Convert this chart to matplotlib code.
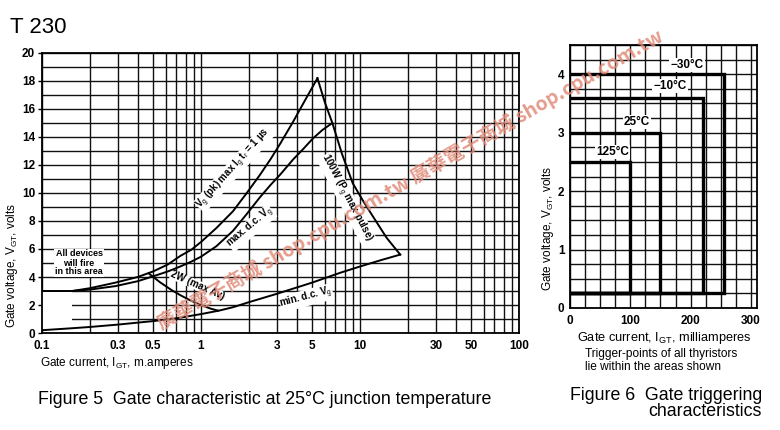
import matplotlib
matplotlib.use('Agg')
import matplotlib.pyplot as plt
from matplotlib.patches import Rectangle

plt.rcParams['font.family'] = ['Liberation Sans', 'DejaVu Sans']
plt.rcParams['mathtext.fontset'] = 'custom'
plt.rcParams['mathtext.rm'] = 'Liberation Sans'
plt.rcParams['mathtext.it'] = 'Liberation Sans:italic'
plt.rcParams['mathtext.bf'] = 'Liberation Sans:bold'
plt.rcParams['mathtext.default'] = 'regular'

# ---------------- Figure 5 data (gate current mA, gate voltage V) -------------
vpk_i = [0.1, 0.155, 0.2, 0.29, 0.4, 0.5, 0.62, 0.74, 0.87, 1.0, 1.25, 1.59,
         1.94, 2.35, 2.75, 3.14, 3.8, 4.5, 5.4]
vpk_v = [3.0, 3.0, 3.2, 3.6, 4.0, 4.4, 4.9, 5.5, 5.95, 6.5, 7.5, 8.7,
         10.0, 11.3, 12.45, 13.5, 15.1, 16.6, 18.2]

maxdc_i = [0.155, 0.2, 0.29, 0.4, 0.5, 0.62, 0.74, 0.87, 1.0, 1.25, 1.59,
           1.94, 2.35, 2.75, 3.14, 3.8, 4.4, 5.06, 5.8, 6.7]
maxdc_v = [3.0, 3.1, 3.35, 3.7, 4.05, 4.4, 4.75, 5.1, 5.45, 6.2, 7.3,
           8.5, 9.7, 10.6, 11.3, 12.4, 13.15, 13.9, 14.5, 15.0]

p100_i = [5.4, 6.0, 6.7, 7.7, 9.0, 10.5, 12.1, 14.7, 17.9]
p100_v = [18.2, 16.5, 15.0, 12.8, 10.7, 9.4, 8.3, 6.8, 5.6]

p2_i = [0.47, 0.55, 0.65, 0.75, 0.85, 1.0, 1.15, 1.28]
p2_v = [4.25, 3.64, 3.08, 2.67, 2.35, 2.0, 1.74, 1.6]

mindc_i = [0.1, 0.15, 0.2, 0.3, 0.5, 0.7, 1.0, 1.3, 1.6, 2.0, 3.0, 5.0,
           7.5, 10.0, 13.5, 17.9]
mindc_v = [0.2, 0.33, 0.43, 0.6, 0.85, 1.05, 1.35, 1.6, 1.85, 2.2, 2.8, 3.6,
           4.3, 4.75, 5.2, 5.6]

x_ticks5 = [0.1, 0.3, 0.5, 1, 3, 5, 10, 30, 50, 100]
x_labels5 = ['0.1', '0.3', '0.5', '1', '3', '5', '10', '30', '50', '100']
y_ticks5 = [0, 2, 4, 6, 8, 10, 12, 14, 16, 18, 20]

# ---------------- Figure 6 data -------------
temps = ['\u221230\u00b0C', '\u221210\u00b0C', '25\u00b0C', '125\u00b0C']
box_i = [255, 220, 150, 100]      # mA
box_v = [4.0, 3.6, 3.0, 2.5]      # V
v_floor = 0.25
x_ticks6 = [0, 100, 200, 300]
y_ticks6 = [0, 1, 2, 3, 4]

W, H = 780, 430
fig = plt.figure(figsize=(7.8, 4.3), dpi=100)

def fx(px):
    return px / W

def fy(py):
    return 1 - py / H

# ================= Figure 5 =================
ax = fig.add_axes([fx(42), fy(333), (519 - 42) / W, (333 - 53) / H])
ax.set_xscale('log')
ax.set_xlim(0.1, 100)
ax.set_ylim(0, 20)

gx = [k * 10 ** d for d in (-1, 0, 1) for k in range(1, 10)] + [100]
for g in gx:
    ax.axvline(g, color='#111111', lw=1.0, zorder=1)
for g in range(0, 21):
    ax.axhline(g, color='#111111', lw=1.0, zorder=1)

# blank area near origin
ax.add_patch(Rectangle((0.1, 0.3), 0.055, 2.6, facecolor='white',
                       edgecolor='none', zorder=2))

lk = dict(color='black', lw=1.4, zorder=4, solid_joinstyle='round')
ax.plot(vpk_i, vpk_v, **lk)
ax.plot(maxdc_i, maxdc_v, **lk)
ax.plot(p100_i, p100_v, **lk)
ax.plot(p2_i, p2_v, **lk)
ax.plot(mindc_i, mindc_v, **lk)

tb = dict(facecolor='white', edgecolor='none', pad=0.0)
ax.text(1.6, 11.7, 'V$_\\mathrm{g}$ (pk) max I$_\\mathrm{g}$ t$_\\mathrm{r}$ = 1 \u00b5s',
        rotation=48, ha='center', va='center', fontsize=7, fontweight='bold',
        zorder=3, bbox=tb)
ax.text(2.05, 7.5, 'max. d.c. V$_\\mathrm{g}$', rotation=40, ha='center',
        va='center', fontsize=7, fontweight='bold', zorder=3, bbox=tb)
ax.text(8.2, 9.6, '100W (P$_\\mathrm{g}$ max pulse)', rotation=-62, ha='center',
        va='center', fontsize=7, fontweight='bold', zorder=3, bbox=tb)
ax.text(0.95, 3.4, '2W (max Av)', rotation=-24, ha='center', va='center',
        fontsize=7, fontweight='bold', zorder=3, bbox=tb)
ax.text(4.6, 2.5, 'min. d.c. V$_\\mathrm{g}$', rotation=15, ha='center',
        va='center', fontsize=7, fontweight='bold', zorder=3, bbox=tb)
ax.text(0.171, 5.0, 'All devices\nwill fire\nin this area', ha='center',
        va='center', fontsize=6.5, fontweight='bold', linespacing=1.0,
        zorder=3, bbox=dict(facecolor='white', edgecolor='none', pad=0.5))

ax.set_xticks(x_ticks5)
ax.set_xticklabels(x_labels5)
ax.set_xticks([], minor=True)
ax.set_yticks(y_ticks5)
ax.tick_params(axis='x', length=0, pad=5, labelsize=8.5)
ax.tick_params(axis='y', length=3, width=1, pad=2, labelsize=8.5)
for lab in ax.get_xticklabels() + ax.get_yticklabels():
    lab.set_fontweight('bold')
for s in ax.spines.values():
    s.set_linewidth(1.3)

fig.text(fx(12), fy(265), 'Gate voltage, V$_\\mathrm{GT}$, volts', rotation=90,
         ha='center', va='center', fontsize=8.5)
fig.text(fx(40), fy(366), 'Gate current, I$_\\mathrm{GT}$, m.amperes',
         ha='left', va='baseline', fontsize=8.5)
fig.text(fx(38), fy(404), 'Figure 5  Gate characteristic at 25\u00b0C junction temperature',
         ha='left', va='baseline', fontsize=12.8)
fig.text(fx(10), fy(33), 'T 230', ha='left', va='baseline', fontsize=16)

# ================= Figure 6 =================
ax2 = fig.add_axes([fx(570), fy(308), (757 - 570) / W, (308 - 45) / H])
ax2.set_xlim(0, 310)
ax2.set_ylim(0, 4.5)
for g in range(0, 301, 25):
    ax2.axvline(g, color='#111111', lw=1.0, zorder=1)
for k in range(0, 19):
    ax2.axhline(k * 0.25, color='#111111', lw=1.0, zorder=1)

for i_max, v_max in zip(box_i, box_v):
    ax2.plot([0, i_max, i_max, 0], [v_max, v_max, v_floor, v_floor],
             color='black', lw=2.4, zorder=4, solid_joinstyle='miter')

lab_x = [194, 166, 111, 70]
lab_y = [4.16, 3.8, 3.18, 2.67]
for t, lx, ly in zip(temps, lab_x, lab_y):
    ax2.text(lx, ly, t, ha='center', va='center', fontsize=8.5,
             fontweight='bold', zorder=5,
             bbox=dict(facecolor='white', edgecolor='none', pad=0.8))

ax2.set_xticks(x_ticks6)
ax2.set_yticks(y_ticks6)
ax2.tick_params(axis='x', length=0, pad=5, labelsize=8.5)
ax2.tick_params(axis='y', length=0, pad=4, labelsize=8.5)
for lab in ax2.get_xticklabels() + ax2.get_yticklabels():
    lab.set_fontweight('bold')
for s in ax2.spines.values():
    s.set_linewidth(1.3)

fig.text(fx(548), fy(228), 'Gate voltage, V$_\\mathrm{GT}$, volts', rotation=90,
         ha='center', va='center', fontsize=8.5)
fig.text(fx(577), fy(341), 'Gate current, I$_\\mathrm{GT}$, milliamperes',
         ha='left', va='baseline', fontsize=9.2)
fig.text(fx(585), fy(357), 'Trigger-points of all thyristors',
         ha='left', va='baseline', fontsize=8.6)
fig.text(fx(585), fy(370), 'lie within the areas shown',
         ha='left', va='baseline', fontsize=8.6)
fig.text(fx(762), fy(400), 'Figure 6  Gate triggering',
         ha='right', va='baseline', fontsize=12.8)
fig.text(fx(762), fy(416), 'characteristics',
         ha='right', va='baseline', fontsize=12.8)

# watermark
fig.text(fx(410), fy(180), '\u5ee3\u83ef\u96fb\u5b50\u5546\u57ce shop.cpu.com.tw \u5ee3\u83ef\u96fb\u5b50\u5546\u57ce shop.cpu.com.tw',
         rotation=30, ha='center', va='center', fontsize=14, fontweight='bold',
         color='#e08a78', alpha=0.85, rotation_mode='anchor',
         family=['Noto Sans CJK TC', 'DejaVu Sans'], zorder=10)

fig.savefig('out.png', dpi=100)
